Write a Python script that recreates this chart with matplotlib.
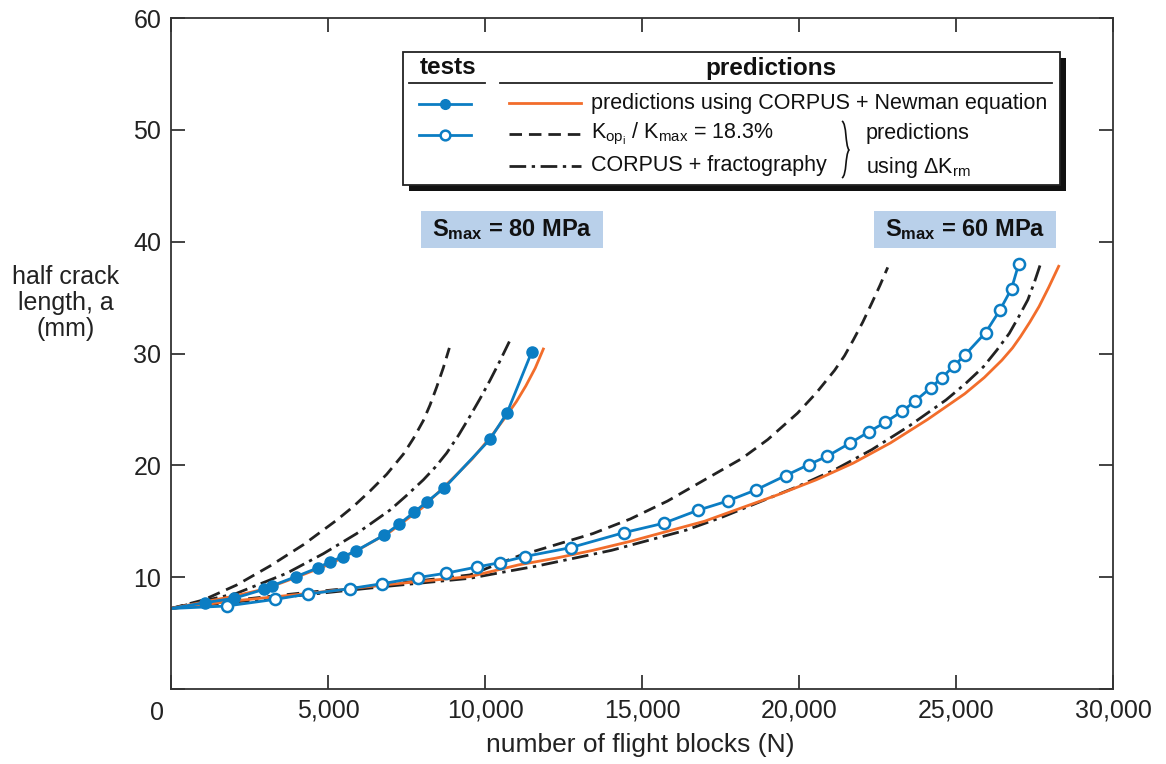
import matplotlib.pyplot as plt
from matplotlib.patches import Rectangle, PathPatch
from matplotlib.path import Path

plt.rcParams['font.family'] = ['Liberation Sans', 'DejaVu Sans']
plt.rcParams['mathtext.fontset'] = 'custom'
plt.rcParams['mathtext.rm'] = 'Liberation Sans'
plt.rcParams['mathtext.it'] = 'Liberation Sans'
plt.rcParams['mathtext.bf'] = 'Liberation Sans:bold'

# tests, Smax = 80 MPa (filled)
n80_test = [0, 1083, 2006, 2972, 3227, 3981, 4692, 5064, 5488, 5882, 6794, 7271,
            7740, 8144, 8705, 10160, 10702, 11488]
a80_test = [7.2, 7.72, 8.11, 8.92, 9.24, 10.05, 10.85, 11.39, 11.84, 12.34, 13.77, 14.76,
            15.80, 16.73, 17.98, 22.33, 24.69, 30.14]

# tests, Smax = 60 MPa (open)
n60_test = [0, 1773, 3323, 4374, 5690, 6731, 7856, 8747, 9746, 10479, 11259, 12727,
            14421, 15688, 16778, 17737, 18625, 19571, 20306, 20896, 21632, 22224,
            22744, 23289, 23703, 24190, 24556, 24922, 25279, 25942, 26403, 26770, 26996]
a60_test = [7.2, 7.42, 8.02, 8.50, 8.97, 9.42, 9.96, 10.35, 10.91, 11.3, 11.84, 12.64,
            13.98, 14.82, 15.98, 16.82, 17.80, 19.08, 20.06, 20.81, 22.0, 22.99,
            23.85, 24.84, 25.76, 26.92, 27.85, 28.86, 29.85, 31.87, 33.90, 35.81, 37.99]

# predictions, CORPUS + Newman
n80_newman = [0, 1000, 2000, 3000, 4000, 5000, 6000, 7000, 8000, 9000, 9600, 10200,
              10700, 11000, 11300, 11600, 11858]
a80_newman = [7.2, 7.75, 8.3, 8.95, 10.0, 11.1, 12.5, 14.1, 16.2, 18.9, 20.6, 22.6,
              24.5, 25.7, 27.1, 28.7, 30.4]
n60_newman = [0, 2092, 4215, 6762, 9523, 11073, 12256, 13439, 14624, 15808, 16991, 18174,
              19358, 20543, 21728, 22910, 24094, 25279, 25900, 26461, 26800, 27052,
              27350, 27645, 27950, 28270]
a60_newman = [7.2, 7.9, 8.5, 9.3, 10.05, 11.1, 11.7, 12.4, 13.2, 14.1, 15.0, 16.2,
              17.4, 18.7, 20.2, 22.0, 24.1, 26.4, 27.85, 29.4, 30.5, 31.5,
              32.8, 34.2, 35.9, 37.8]

# predictions, Kopi/Kmax = 18.3%
n80_kop = [0, 1030, 2092, 3153, 4215, 5277, 5800, 6338, 6870, 7400, 7720, 8036, 8250,
           8461, 8670, 8865]
a80_kop = [7.2, 7.96, 9.3, 11.0, 12.9, 15.1, 16.3, 17.7, 19.2, 21.0, 22.4, 24.0, 25.4,
           27.0, 28.7, 30.5]
n60_kop = [0, 2092, 4215, 6752, 9523, 11073, 12256, 13439, 14624, 15808, 16991, 18174,
           19004, 19951, 20543, 21135, 21450, 21728, 22030, 22317, 22580, 22826]
a60_kop = [7.2, 7.96, 8.6, 9.3, 10.2, 11.9, 12.9, 13.9, 15.2, 16.8, 18.7, 20.6,
           22.3, 24.66, 26.45, 28.5, 29.8, 31.2, 32.8, 34.5, 36.1, 37.7]

# predictions, CORPUS + fractography
n80_frac = [0, 2092, 3685, 4852, 5914, 6975, 7500, 8036, 8420, 8780, 9160, 9523,
            9850, 10160, 10470, 10776]
a80_frac = [7.2, 8.56, 10.35, 12.1, 13.9, 16.0, 17.3, 18.7, 19.85, 21.1, 22.7, 24.4,
            26.0, 27.6, 29.3, 31.07]
n60_frac = [0, 2092, 4215, 6762, 9523, 10479, 11664, 12846, 14031, 15216, 16400, 17582,
            18766, 19951, 21135, 22317, 23500, 24684, 25300, 25869, 26300, 26697,
            27000, 27288, 27500, 27702]
a60_frac = [7.2, 7.8, 8.4, 9.15, 9.9, 10.4, 11.0, 11.7, 12.4, 13.3, 14.2, 15.4,
            16.75, 18.1, 19.6, 21.4, 23.5, 25.85, 27.3, 28.8, 30.3, 31.8,
            33.3, 34.8, 36.4, 38.1]

xticks = [0, 5000, 10000, 15000, 20000, 25000, 30000]
xticklabels = ['', '5,000', '10,000', '15,000', '20,000', '25,000', '30,000']
yticks = [0, 10, 20, 30, 40, 50, 60]
yticklabels = ['', '10', '20', '30', '40', '50', '60']

blue = '#0b7dc3'
orange = '#f26d2b'
dark = '#222222'
W, H = 1166, 764

fig = plt.figure(figsize=(W / 100, H / 100), dpi=100)
ax = fig.add_axes([171 / W, 1 - 689 / H, (1113 - 171) / W, (689 - 18) / H])

lw = 2.0
dash = (4.5, 2.5)
dashdot = (6, 2, 1.2, 2)
ax.plot(n60_kop, a60_kop, color=dark, lw=lw, dashes=dash)
ax.plot(n80_kop, a80_kop, color=dark, lw=lw, dashes=dash)
ax.plot(n60_frac, a60_frac, color=dark, lw=lw, dashes=dashdot)
ax.plot(n80_frac, a80_frac, color=dark, lw=lw, dashes=dashdot)
ax.plot(n60_newman, a60_newman, color=orange, lw=lw)
ax.plot(n80_newman, a80_newman, color=orange, lw=lw)
ax.plot(n60_test, a60_test, color=blue, lw=lw, marker='o', ms=8, mfc='white',
        mec=blue, mew=1.8, markevery=range(1, len(n60_test)))
ax.plot(n80_test, a80_test, color=blue, lw=lw, marker='o', ms=8, mfc=blue,
        mec=blue, markevery=range(1, len(n80_test)))

ax.set_xlim(0, 30000)
ax.set_ylim(0, 60)
ax.set_xticks(xticks)
ax.set_xticklabels(xticklabels)
ax.set_yticks(yticks)
ax.set_yticklabels(yticklabels)
ax.tick_params(direction='in', length=10, width=1.2, labelsize=18, colors='#222222',
               top=True, right=True, pad=7)
for s in ax.spines.values():
    s.set_linewidth(1.3)
    s.set_color('#333333')

# overlay in pixel coords for annotations and legend
ov = fig.add_axes([0, 0, 1, 1], zorder=5)
ov.set_xlim(0, W)
ov.set_ylim(H, 0)
ov.axis('off')
ov.patch.set_alpha(0)

tc = '#222222'
ov.text(157, 713, '0', fontsize=18, color=tc, ha='center', va='center')
ov.text(640, 745, 'number of flight blocks (N)', fontsize=19, color=tc, ha='center', va='center')
ov.text(66, 303, 'half crack\nlength, a\n(mm)', fontsize=18, color=tc,
        ha='center', va='center', linespacing=1.12)

# Smax labels
for x0, lab in [(421, r'$\mathbf{S_{max}}$ = 80 MPa'), (874, r'$\mathbf{S_{max}}$ = 60 MPa')]:
    ov.add_patch(Rectangle((x0, 211), 182, 37, facecolor='#b9d0ea', edgecolor='none'))
    ov.text(x0 + 91, 230, lab, fontsize=17, fontweight='bold', color='#111111',
            ha='center', va='center')

# legend box with shadow
ov.add_patch(Rectangle((409, 58), 657, 133, facecolor='#111111', edgecolor='none'))
ov.add_patch(Rectangle((403, 52), 657, 133, facecolor='white', edgecolor='#222222', lw=1.3))
ov.text(448, 68, 'tests', fontsize=17.5, fontweight='bold', ha='center', va='center', color='#111111')
ov.text(771, 68, 'predictions', fontsize=17.5, fontweight='bold', ha='center', va='center', color='#111111')
ov.plot([409, 485], [83, 83], color='#222222', lw=1.3)
ov.plot([500, 1052], [83, 83], color='#222222', lw=1.3)
ov.plot([419, 445, 471], [104, 104, 104], color=blue, lw=lw, marker='o', ms=7, mfc=blue,
        mec=blue, markevery=[1])
ov.plot([419, 445, 471], [135, 135, 135], color=blue, lw=lw, marker='o', ms=7, mfc='white',
        mec=blue, mew=1.8, markevery=[1])
ov.plot([509, 581], [103, 103], color=orange, lw=lw)
ov.plot([509, 581], [134, 134], color=dark, lw=lw, dashes=dash)
ov.plot([509, 581], [166, 166], color=dark, lw=lw, dashes=dashdot)
fs = 15.5
ov.text(591, 103, 'predictions using CORPUS + Newman equation', fontsize=fs, va='center', color='#111111')
ov.text(591, 134, r'K$_{\mathrm{op_i}}$ / K$_{\mathrm{max}}$ = 18.3%', fontsize=fs, va='center', color='#111111')
ov.text(591, 166, 'CORPUS + fractography', fontsize=fs, va='center', color='#111111')
ov.text(866, 134, 'predictions', fontsize=fs, va='center', color='#111111')
ov.text(866, 167, r'using $\Delta$K$_{\mathrm{rm}}$', fontsize=fs, va='center', color='#111111')

# curly brace
verts = [(842, 121), (847, 124), (845, 145), (849, 150),
         (845, 155), (847, 175), (842, 178)]
codes = [Path.MOVETO, Path.CURVE4, Path.CURVE4, Path.CURVE4,
         Path.CURVE4, Path.CURVE4, Path.CURVE4]
ov.add_patch(PathPatch(Path(verts, codes), facecolor='none', edgecolor='#111111', lw=1.2))

fig.savefig('out.png', dpi=100)
